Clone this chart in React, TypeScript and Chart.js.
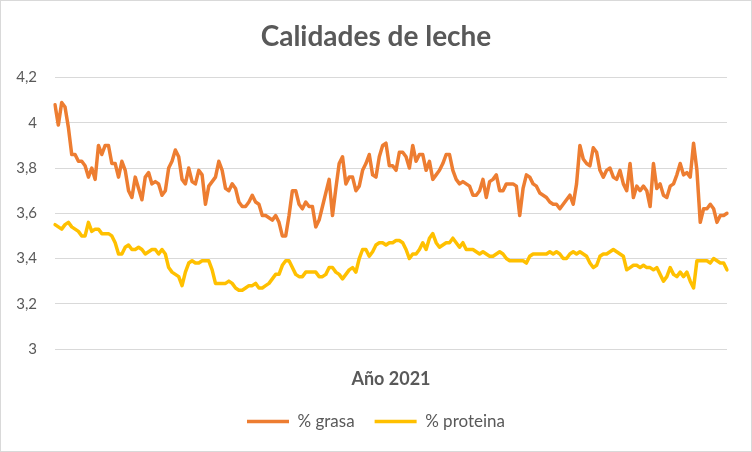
import React, { useEffect, useRef } from "react";
import { Chart, registerables } from "chart.js";

Chart.register(...registerables);

const FONT = "Lato, 'Open Sans', sans-serif";

const grasa = [
  4.08, 3.99, 4.09, 4.07, 3.98, 3.86, 3.86, 3.83, 3.83, 3.81, 3.76, 3.80, 3.75, 3.90, 3.86, 3.90, 3.90, 3.82, 3.82, 3.76, 3.83, 3.79, 3.70, 3.67, 3.76, 3.71, 3.66, 3.76, 3.78, 3.73, 3.74, 3.73, 3.68, 3.70, 3.80, 3.83, 3.88, 3.85, 3.75, 3.73, 3.80, 3.74,
  3.73, 3.79, 3.77, 3.64, 3.72, 3.74, 3.76, 3.83, 3.79, 3.71, 3.70, 3.73, 3.71, 3.65, 3.63, 3.63, 3.65, 3.68, 3.65, 3.64, 3.59, 3.59, 3.58, 3.57, 3.59, 3.56, 3.50, 3.50, 3.59, 3.70, 3.70, 3.64, 3.62, 3.65, 3.63, 3.63, 3.54, 3.57, 3.63, 3.69, 3.75,
  3.59, 3.71, 3.82, 3.85, 3.73, 3.76, 3.76, 3.70, 3.72, 3.79, 3.82, 3.86, 3.77, 3.76, 3.85, 3.90, 3.91, 3.81, 3.81, 3.79, 3.87, 3.87, 3.85, 3.80, 3.90, 3.83, 3.86, 3.86, 3.79, 3.83, 3.75, 3.77, 3.79, 3.82, 3.86, 3.86, 3.79, 3.75, 3.73, 3.74,
  3.73, 3.72, 3.68, 3.68, 3.70, 3.75, 3.67, 3.74, 3.75, 3.77, 3.70, 3.70, 3.73, 3.73, 3.73, 3.72, 3.59, 3.71, 3.77, 3.76, 3.73, 3.72, 3.69, 3.68, 3.67, 3.65, 3.64, 3.64, 3.62, 3.64, 3.66, 3.68, 3.64, 3.73, 3.90, 3.84, 3.82, 3.81, 3.89, 3.87, 3.79,
  3.76, 3.79, 3.80, 3.76, 3.75, 3.79, 3.73, 3.70, 3.82, 3.67, 3.72, 3.70, 3.72, 3.70, 3.63, 3.82, 3.71, 3.73, 3.68, 3.67, 3.72, 3.73, 3.77, 3.82, 3.77, 3.78, 3.76, 3.91, 3.79, 3.56, 3.62, 3.62, 3.64, 3.62, 3.56, 3.59, 3.59, 3.60,
];

const proteina = [
  3.55, 3.54, 3.53, 3.55, 3.56, 3.54, 3.53, 3.52, 3.50, 3.50, 3.56, 3.52, 3.53, 3.53, 3.51, 3.51, 3.51, 3.50, 3.47, 3.42, 3.42, 3.45, 3.46, 3.44, 3.44, 3.45, 3.44, 3.42, 3.43, 3.44, 3.44, 3.42, 3.44, 3.42, 3.36, 3.34, 3.33, 3.32, 3.28, 3.34, 3.38, 3.39,
  3.38, 3.38, 3.39, 3.39, 3.39, 3.35, 3.29, 3.29, 3.29, 3.29, 3.30, 3.29, 3.27, 3.26, 3.26, 3.27, 3.28, 3.28, 3.29, 3.27, 3.27, 3.28, 3.29, 3.31, 3.33, 3.33, 3.37, 3.39, 3.39, 3.36, 3.33, 3.32, 3.32, 3.34, 3.34, 3.34, 3.34, 3.32, 3.32, 3.33, 3.36,
  3.36, 3.34, 3.33, 3.31, 3.33, 3.35, 3.36, 3.34, 3.40, 3.44, 3.44, 3.41, 3.43, 3.46, 3.47, 3.47, 3.46, 3.47, 3.47, 3.48, 3.48, 3.47, 3.44, 3.40, 3.42, 3.42, 3.44, 3.47, 3.44, 3.49, 3.51, 3.47, 3.45, 3.46, 3.47, 3.47, 3.49, 3.47, 3.45, 3.47,
  3.44, 3.44, 3.44, 3.43, 3.42, 3.43, 3.42, 3.41, 3.41, 3.42, 3.43, 3.42, 3.40, 3.39, 3.39, 3.39, 3.39, 3.39, 3.38, 3.41, 3.42, 3.42, 3.42, 3.42, 3.42, 3.43, 3.42, 3.43, 3.42, 3.40, 3.40, 3.42, 3.43, 3.42, 3.43, 3.42, 3.41, 3.38, 3.36, 3.37, 3.41,
  3.42, 3.42, 3.43, 3.44, 3.43, 3.42, 3.41, 3.35, 3.36, 3.37, 3.37, 3.36, 3.37, 3.36, 3.36, 3.35, 3.36, 3.33, 3.30, 3.32, 3.36, 3.33, 3.32, 3.34, 3.32, 3.34, 3.30, 3.27, 3.39, 3.39, 3.39, 3.39, 3.38, 3.40, 3.39, 3.38, 3.38, 3.35,
];

const dias = grasa.map((_, i) => String(i + 1));

const titulo = "Calidades de leche";
const tituloEje = "Año 2021";
const yMin = 3;
const yMax = 4.2;
const yPaso = 0.2;

export default function App() {
  const ref = useRef<HTMLCanvasElement>(null);

  useEffect(() => {
    if (!ref.current) return;
    const chart = new Chart(ref.current, {
      type: "line",
      data: {
        labels: dias,
        datasets: [
          {
            label: "% grasa",
            data: grasa,
            borderColor: "#ED7D31",
            backgroundColor: "#ED7D31",
            borderWidth: 3.5,
            pointRadius: 0,
            tension: 0,
            borderJoinStyle: "round",
            borderCapStyle: "round",
          },
          {
            label: "% proteina",
            data: proteina,
            borderColor: "#FFC000",
            backgroundColor: "#FFC000",
            borderWidth: 3.5,
            pointRadius: 0,
            tension: 0,
            borderJoinStyle: "round",
            borderCapStyle: "round",
          },
        ],
      },
      options: {
        animation: false,
        responsive: false,
        maintainAspectRatio: false,
        layout: { padding: { left: 0, right: 0, top: 0, bottom: 12 } },
        plugins: {
          title: {
            display: true,
            text: titulo,
            color: "#595959",
            font: { family: FONT, size: 28, weight: "bold" },
            padding: { top: 20, bottom: 24 },
          },
          legend: {
            position: "bottom",
            labels: {
              usePointStyle: true,
              pointStyle: "line",
              pointStyleWidth: 42,
              color: "#595959",
              font: { family: FONT, size: 17 },
              padding: 20,
            },
          },
          tooltip: { enabled: false },
        },
        scales: {
          x: {
            grid: { display: false },
            border: { display: false },
            ticks: { display: false },
            title: {
              display: true,
              text: tituloEje,
              color: "#595959",
              font: { family: FONT, size: 18, weight: "bold" },
              padding: { top: 0, bottom: 3 },
            },
            afterFit: (s: any) => {
              s.height = 44;
            },
          },
          y: {
            min: yMin,
            max: yMax,
            ticks: {
              stepSize: yPaso,
              color: "#595959",
              font: { family: FONT, size: 15 },
              padding: 18,
              callback: (v: any) => String(Math.round(Number(v) * 10) / 10).replace(".", ","),
            },
            grid: { color: "#d9d9d9", drawTicks: false },
            border: { display: false },
            afterFit: (s: any) => {
              s.width = 55;
            },
          },
          margenDerecho: {
            type: "linear",
            position: "right",
            display: true,
            grid: { display: false },
            border: { display: false },
            ticks: { display: false },
            afterFit: (s: any) => {
              s.width = 25;
            },
          },
        },
      },
    });
    return () => chart.destroy();
  }, []);

  return (
    <div style={{ position: "fixed", left: 0, top: 0, width: 752, height: 452, background: "#fff" }}>
      <canvas ref={ref} width={752} height={452} style={{ position: "absolute", left: 0, top: 0, width: 752, height: 452 }} />
      <div
        style={{
          position: "absolute",
          left: 0,
          top: 0,
          width: 752,
          height: 452,
          boxSizing: "border-box",
          border: "1px solid #d9d9d9",
          pointerEvents: "none",
        }}
      />
    </div>
  );
}
